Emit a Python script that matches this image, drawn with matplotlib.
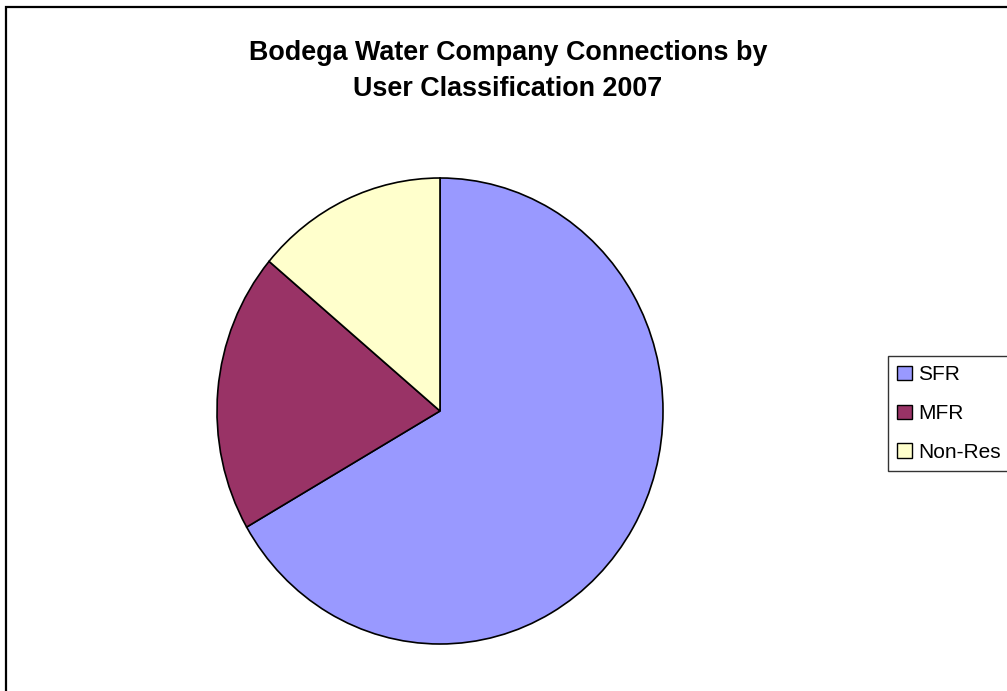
import matplotlib.pyplot as plt
from matplotlib.patches import Patch, Rectangle

plt.rcParams['font.family'] = ['Liberation Sans', 'DejaVu Sans']

labels = ["SFR", "MFR", "Non-Res"]
values = [66.7, 19.4, 13.9]
colors = ["#9999ff", "#993366", "#ffffcc"]

W, H = 1007, 691
fig = plt.figure(figsize=(W / 100, H / 100), dpi=100)

# outer chart-area border (right and bottom are cut off in the original)
fig.add_artist(Rectangle((6 / W, -0.1), 1.2, 1 - 7 / H + 0.1, transform=fig.transFigure,
                         fill=False, edgecolor="black", linewidth=1.6))

ax = fig.add_axes([217 / W, (H - 644) / H, 446 / W, 466 / H])
ax.pie(values, colors=colors, startangle=90, counterclock=False,
       wedgeprops=dict(edgecolor="black", linewidth=1.2))
ax.set_aspect("auto")
ax.set_xlim(-1, 1)
ax.set_ylim(-1, 1)
ax.axis("off")

fig.text(508 / W, 1 - 71 / H, "Bodega Water Company Connections by\nUser Classification 2007",
         ha="center", va="center", fontsize=19.4, fontweight="bold", linespacing=1.52)

handles = [Patch(facecolor=c, edgecolor="black", linewidth=1.0) for c in colors]
leg = fig.legend(handles, labels, loc="upper left", bbox_to_anchor=(888 / W, 1 - 356 / H),
                 fontsize=15, frameon=True, fancybox=False, edgecolor="black",
                 handlelength=0.7, handleheight=0.7, handletextpad=0.3,
                 labelspacing=0.95, borderpad=0.45, borderaxespad=0)
leg.get_frame().set_linewidth(1.0)

fig.savefig("out.png", dpi=100)
